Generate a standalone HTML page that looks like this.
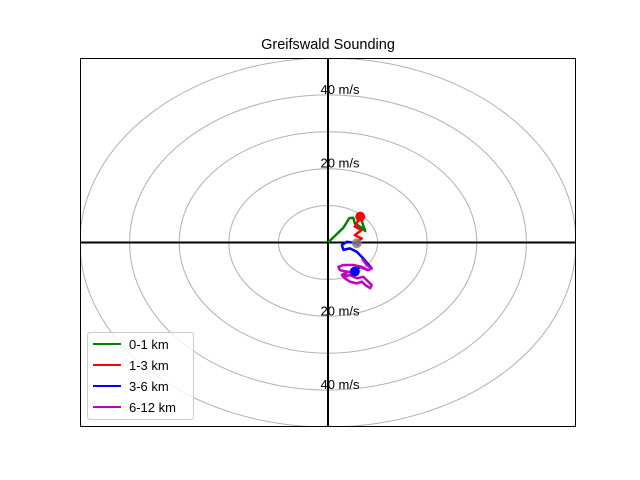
<!DOCTYPE html>
<html><head><meta charset="utf-8"><style>
body{margin:0;background:#fff;font-family:"Liberation Sans","DejaVu Sans",sans-serif}
svg{display:block}
</style></head><body>
<svg id="chart" width="640" height="480" viewBox="0 0 640 480" xmlns="http://www.w3.org/2000/svg">
<rect width="640" height="480" fill="#fff"/>
<text x="328" y="49" text-anchor="middle" font-size="14.5" fill="#000">Greifswald Sounding</text>
<defs><clipPath id="clip"><rect x="80" y="58" width="496" height="369"/></clipPath></defs>
<g id="rings" clip-path="url(#clip)"></g>
<g id="axes"></g>
<g id="traces" clip-path="url(#clip)"></g>
<rect x="80.5" y="58.5" width="495" height="368" fill="none" stroke="#000" stroke-width="1"/>
<g id="legend"></g>
</svg>
<script>
const ringSpeeds=[10,20,30,40,50];
const ringLabels=["20 m/s","40 m/s"];
const ringLabelSpeeds=[20,40];
const seriesNames=["0-1 km","1-3 km","3-6 km","6-12 km"];
const seriesColors=["green","red","blue","#c000c0"];
const u01=[0,3.1,4.3,5.1,5.4,7,7.5,6.5];
const v01=[0,4,6.6,6.7,5.2,3.8,3.1,7];
const u13=[6.5,5.4,6.8,5.4,6.8,5.4,6.1,5.8];
const v13=[7,4.3,3.4,2,1.1,-0.2,-0.7,-0.2];
const u36=[5.8,3.8,2.8,3.1,4.4,5.8,7.1,8.8,8.1,6.5,5.4];
const v36=[-0.2,0.2,-0.7,-2,-1.6,-2.5,-4.3,-7,-7.5,-6.6,-7.9];
const u612=[6.8,7.8,8.8,8.1,6.8,5.1,3.1,2.1,2.4,3.8,3.4,4.4,5.8,7.1,7.8,8.8,8.5,7.5,6.8,5.8,4.4,3.4,2.8,3.8,5.4];
const v612=[-4.3,-6.1,-7,-7.5,-6.6,-6.1,-6.1,-6.6,-7.5,-7.9,-9.3,-8.8,-9.7,-9.3,-10.2,-11.5,-12.4,-11.5,-10.6,-11.1,-10.6,-9.7,-8.8,-8,-7.9];
const NS="http://www.w3.org/2000/svg";
const X0=80,X1=576,Y0=58,Y1=427;
const sx=u=>328+u*(X1-X0)/100;
const sy=v=>242.5-v*(Y1-Y0)/100;
function mk(tag,attrs,parent){const e=document.createElementNS(NS,tag);for(const k in attrs)e.setAttribute(k,attrs[k]);parent.appendChild(e);return e;}
const rings=document.getElementById('rings');
ringSpeeds.forEach(s=>{
 const e=mk('ellipse',{cx:sx(0),cy:sy(0),rx:sx(s)-sx(0),ry:sy(0)-sy(s),fill:'none',stroke:'#b0b0b0','stroke-width':1},rings);
 
 
});
const axes=document.getElementById('axes');
const hx=mk('line',{x1:X0,x2:X1,y1:sy(0),y2:sy(0),stroke:'#000','stroke-width':2},axes);


const vy=mk('line',{x1:sx(0),x2:sx(0),y1:Y0,y2:Y1,stroke:'#000','stroke-width':2},axes);


ringLabelSpeeds.forEach((s,i)=>{
 [s,-s].forEach(vv=>{
  const t=mk('text',{x:sx(0)+12,y:sy(vv)-1,'text-anchor':'middle','font-size':'13',fill:'#000'},axes);
  t.textContent=ringLabels[i];
  
  
 });
});
const tr=document.getElementById('traces');
const us=[u01,u13,u36,u612],vs=[v01,v13,v36,v612];
us.forEach((u,i)=>{
 const p=mk('polyline',{points:u.map((x,j)=>sx(x)+','+sy(vs[i][j])).join(' '),fill:'none',stroke:seriesColors[i],'stroke-width':2.5,'stroke-linejoin':'round'},tr);
 
 
});
const dotU=[u01[u01.length-1],u13[u13.length-1],u36[u36.length-1]];
const dotV=[v01[v01.length-1],v13[v13.length-1],v36[v36.length-1]];
const dotC=['red','gray','blue'];
dotU.forEach((u,i)=>{
 const c=mk('circle',{cx:sx(u),cy:sy(dotV[i]),r:5,fill:dotC[i],opacity:i==1?0.8:1},tr);
 
 
});
const lg=document.getElementById('legend');
mk('rect',{x:87.5,y:332.5,width:106,height:87,rx:3,fill:'#fff',stroke:'#ccc','fill-opacity':0.8},lg);
seriesNames.forEach((n,i)=>{
 const y=344+i*21;
 const l=mk('line',{x1:93,x2:121,y1:y,y2:y,stroke:seriesColors[i],'stroke-width':2},lg);
 
 
 const t=mk('text',{x:129,y:y+5,'font-size':'13',fill:'#000'},lg);
 t.textContent=n;
 
 
});
</script>
</body></html>
